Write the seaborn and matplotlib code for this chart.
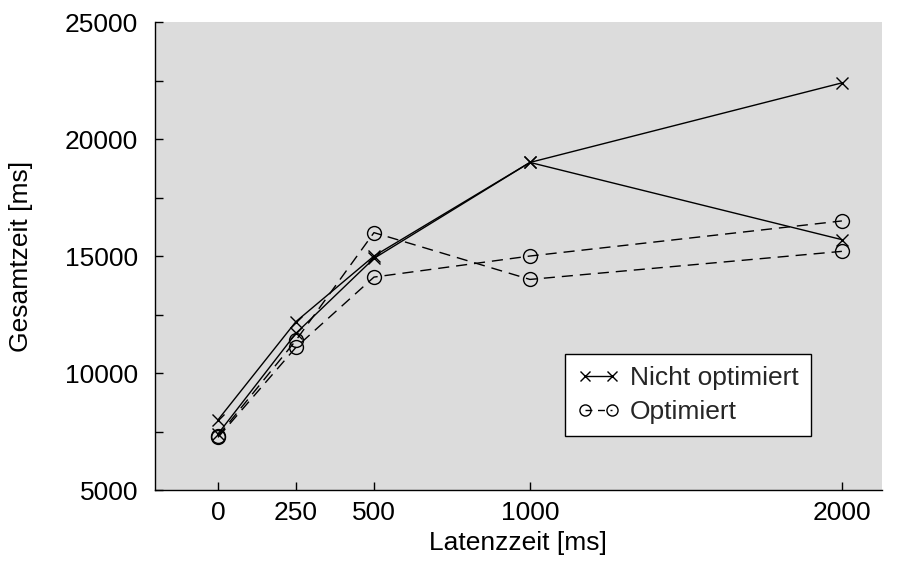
import pandas as pd
import matplotlib.pyplot as plt
import seaborn as sns
from matplotlib.lines import Line2D
from matplotlib.ticker import MultipleLocator

# --- DATA ---
latenz = [0, 250, 500, 1000, 2000]
nicht_run1 = [8000, 12200, 15000, 19000, 22400]
nicht_run2 = [7400, 11700, 14900, 19000, 15700]
opt_run1 = [7300, 11400, 16000, 14000, 15200]
opt_run2 = [7250, 11100, 14100, 15000, 16500]
x_ticks = [0, 250, 500, 1000, 2000]

def long_form(runs):
    rows = []
    for run_id, values in enumerate(runs):
        for x, y in zip(latenz, values):
            rows.append({'latenz': x, 'zeit': y, 'run': run_id})
    return pd.DataFrame(rows)

df_nicht = long_form([nicht_run1, nicht_run2])
df_opt = long_form([opt_run1, opt_run2])

# --- PLOT ---
sns.set_theme(style="ticks")
plt.rcParams['font.family'] = ['Liberation Sans', 'DejaVu Sans']
FS = 19

fig = plt.figure(figsize=(8.98, 5.65), dpi=100)
ax = fig.add_axes([0.1726, 0.1327, 0.8094, 0.8283])
ax.set_facecolor('#dcdcdc')

dash = (0, (8, 5))
sns.lineplot(data=df_nicht, x='latenz', y='zeit', units='run', estimator=None,
             color='black', linewidth=1, marker='x', markersize=9,
             markeredgecolor='black', markeredgewidth=1, ax=ax, legend=False)
sns.lineplot(data=df_opt, x='latenz', y='zeit', units='run', estimator=None,
             color='black', linewidth=1, linestyle=dash, marker='o', markersize=10,
             markerfacecolor='none', markeredgecolor='black', markeredgewidth=1,
             ax=ax, legend=False)

ax.set_xlim(-202, 2128)
ax.set_ylim(5000, 25000)
ax.set_xticks(x_ticks)
ax.yaxis.set_major_locator(MultipleLocator(5000))
ax.yaxis.set_minor_locator(MultipleLocator(2500))
ax.tick_params(axis='both', which='both', direction='in', length=6, width=1,
               color='black', labelsize=FS, labelcolor='black')
ax.tick_params(axis='y', pad=12)
ax.tick_params(axis='x', pad=8)

for side in ['top', 'right']:
    ax.spines[side].set_visible(False)
for side in ['left', 'bottom']:
    ax.spines[side].set_color('black')
    ax.spines[side].set_linewidth(1)

ax.set_xlabel('Latenzzeit [ms]', fontsize=FS, color='black', labelpad=4)
ax.set_ylabel('Gesamtzeit [ms]', fontsize=FS, color='black', labelpad=23)

handles = [
    Line2D([], [], color='black', linewidth=1, marker='x', markersize=7),
    Line2D([], [], color='black', linewidth=1, linestyle=(0, (5, 4)), marker='o',
           markersize=8, markerfacecolor='none'),
]
leg = ax.legend(handles, ['Nicht optimiert', 'Optimiert'], loc='lower left',
                bbox_to_anchor=(0.564, 0.115), borderaxespad=0, numpoints=2,
                handlelength=1.6, fontsize=FS, fancybox=False, framealpha=1,
                edgecolor='black', facecolor='white', borderpad=0.47,
                labelspacing=0.36, handletextpad=0.4)
leg.get_frame().set_linewidth(1)

fig.savefig('out.png', dpi=100)
